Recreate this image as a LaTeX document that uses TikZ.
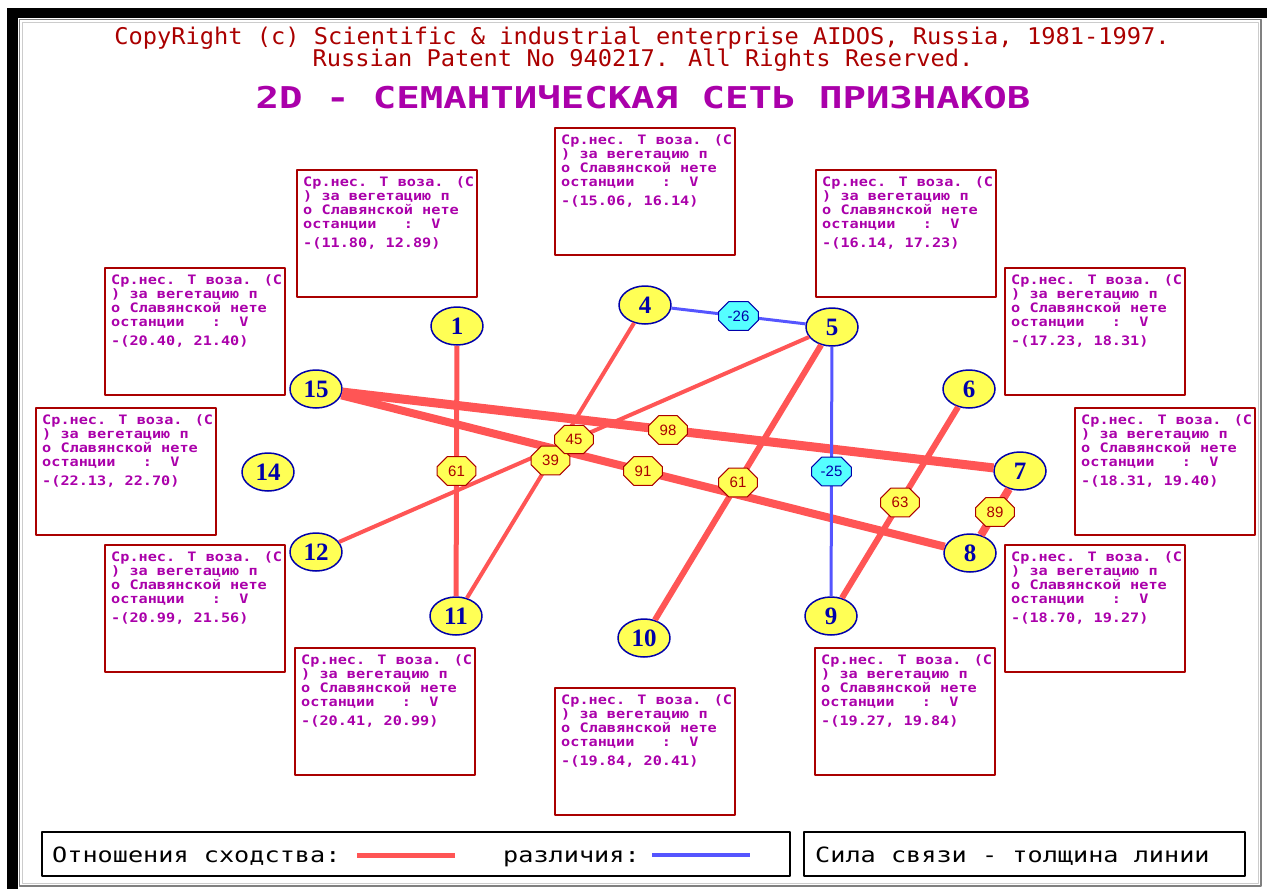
\documentclass[tikz,border=0pt]{standalone}
\usepackage{fontspec}
\usetikzlibrary{shapes.geometric,shapes.misc}
\newfontfamily\headfont[FakeStretch=1.03]{DejaVu Sans Mono}
\newfontfamily\titlefont[FakeStretch=1.3]{DejaVu Sans Mono}
\newfontfamily\boxfont[FakeStretch=1.17]{DejaVu Sans Mono}
\newfontfamily\legfont[FakeStretch=1.2]{DejaVu Sans Mono}
\newfontfamily\numfont{Liberation Serif}
\newfontfamily\wfont{Liberation Sans}
\definecolor{dosred}{RGB}{170,0,0}
\definecolor{dosmag}{RGB}{170,0,170}
\definecolor{dosyel}{RGB}{255,255,85}
\definecolor{doscyan}{RGB}{85,255,255}
\definecolor{dosblue}{RGB}{0,0,170}
\definecolor{simred}{RGB}{255,85,85}
\definecolor{difblue}{RGB}{85,85,255}
\tikzset{
  feat/.style={ellipse, fill=dosyel, draw=dosblue, line width=1.5pt, minimum width=52pt, minimum height=38pt, inner sep=0pt, text=dosblue, font=\numfont\bfseries\fontsize{25}{25}\selectfont},
  wlab/.style={chamfered rectangle, chamfered rectangle xsep=5pt, chamfered rectangle ysep=5pt, fill=dosyel, draw=dosred, line width=1pt, text=dosred, inner xsep=6pt, inner ysep=4pt, font=\wfont\fontsize{15}{15}\selectfont},
  dlab/.style={wlab, fill=doscyan, draw=dosblue, text=dosblue, inner xsep=4pt},
  infobox/.style={draw=dosred, line width=2pt},
  boxtext/.style={anchor=north west, align=left, inner sep=0pt, text=dosmag, font=\boxfont\bfseries\fontsize{13}{14}\selectfont},
  legtext/.style={anchor=base west, inner sep=0pt, font=\legfont\fontsize{21}{21}\selectfont}
}
\begin{document}
\begin{tikzpicture}[x=1pt, y=-1pt, line join=round, line cap=butt]
\useasboundingbox (0,0) rectangle (1267,889);
% frame
\fill[black] (7,8) rectangle (1267,18);
\fill[black] (7,8) rectangle (18,889);
\draw[gray, line width=1.2pt] (19.5,19.5) rectangle (1261,886);
\draw[black!20, line width=1pt] (22,22) rectangle (1258.5,883.5);
% header
\node[text=dosred, font=\headfont\fontsize{23}{23}\selectfont] (copy) at (642,38) {CopyRight (c) Scientific \& industrial enterprise AIDOS, Russia, 1981-1997.};
\node[text=dosred, font=\headfont\fontsize{23}{23}\selectfont] (patent) at (643,60) {Russian Patent No 940217. All Rights Reserved.};
\node[text=dosmag, font=\titlefont\bfseries\fontsize{30}{30}\selectfont] (title) at (643,97) {2D - СЕМАНТИЧЕСКАЯ СЕТЬ ПРИЗНАКОВ};
% info boxes
\foreach \x/\y/\r [count=\i] in {297/170/{11.80, 12.89}, 555/128/{15.06, 16.14}, 816/170/{16.14, 17.23},
    1005/268/{17.23, 18.31}, 1075/408/{18.31, 19.40}, 1005/545/{18.70, 19.27}, 815/648/{19.27, 19.84},
    555/688/{19.84, 20.41}, 295/648/{20.41, 20.99}, 105/545/{20.99, 21.56}, 36/408/{22.13, 22.70}, 105/268/{20.40, 21.40}}{
  \draw[infobox] (\x,\y) rectangle ++(180,127);
  \node[boxtext] (info\i) at (\x+6,\y+6) {Ср.нес. Т воза. (С\\) за вегетацию п\\о Славянской нете\\останции~~~:~~V\\[5pt]-(\r)};
}
% features
\node[feat] (n1) at (457,326) {1};
\node[feat] (n4) at (645,305) {4};
\node[feat] (n5) at (832,327) {5};
\node[feat] (n15) at (316,389) {15};
\node[feat] (n6) at (969,389) {6};
\node[feat] (n14) at (268,472) {14};
\node[feat] (n7) at (1020,471) {7};
\node[feat] (n12) at (316,552) {12};
\node[feat] (n8) at (970,553) {8};
\node[feat] (n11) at (456,616) {11};
\node[feat] (n10) at (644,638) {10};
\node[feat] (n9) at (831,616) {9};
% links
\foreach \a/\b/\w in {1/11/5, 4/11/4, 5/12/4, 15/7/9, 15/8/8, 5/10/6, 6/9/6, 7/8/8}
  \draw[simred, line width=\w pt] (n\a) -- (n\b);
\foreach \a/\b in {4/5, 5/9}
  \draw[difblue, line width=3pt] (n\a) -- (n\b);
\foreach \a/\b/\v in {1/11/61, 4/11/39, 5/12/45, 15/7/98, 15/8/91, 5/10/61, 6/9/63, 7/8/89}
  \path (n\a) -- node[wlab] (w\a-\b) {\v} (n\b);
\foreach \a/\b/\v in {4/5/-26, 5/9/-25}
  \path (n\a) -- node[dlab] (w\a-\b) {\v} (n\b);
% legend
\draw[line width=1.5pt] (42,832) rectangle (790,876);
\node[legtext] (simtxt) at (52,862) {Отношения сходства:};
\draw[simred, line width=5pt] (357,855) -- (455,855);
\node[legtext] (diftxt) at (503,862) {различия:};
\draw[difblue, line width=4pt] (652,855) -- (750,855);
\draw[line width=1.5pt] (804,832) rectangle (1245,876);
\node[legtext] (strength) at (815,862) {Сила связи - толщина линии};
\end{tikzpicture}
\end{document}
